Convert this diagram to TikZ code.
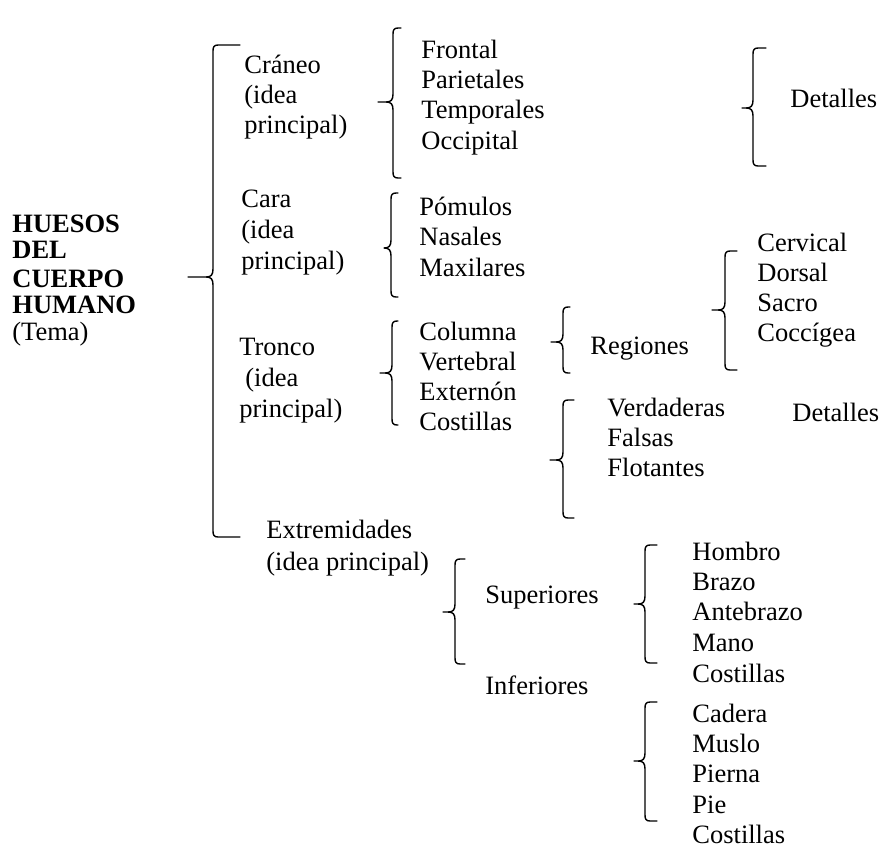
\documentclass[tikz,border=0pt]{standalone}
\usepackage{fontspec}
\setmainfont{Liberation Serif}
\usepackage{tikz}
% llave{x}{arriba}{punta y}{abajo}{punta x}{gancho}
\newcommand{\llave}[6]{%
  \draw[llave] ({#1+#6},#2) -- ({#1+5},#2) .. controls ({#1+1},#2) and (#1,{#2+2}) .. (#1,{#2+6})
    -- (#1,{#3-8}) .. controls (#1,{#3-2}) and ({#1-2},#3) .. ({#1-7},#3) -- (#5,#3)
    -- ({#1-7},#3) .. controls ({#1-2},#3) and (#1,{#3+2}) .. (#1,{#3+8})
    -- (#1,{#4-6}) .. controls (#1,{#4-2}) and ({#1+1},#4) .. ({#1+5},#4) -- ({#1+#6},#4);}

\begin{document}
\begin{tikzpicture}[x=0.5pt, y=-0.5pt,
    font=\fontsize{13.25pt}{15pt}\selectfont,
    txt/.style={anchor=base west, inner sep=0pt},
    tema/.style={txt, font=\fontsize{13.25pt}{15pt}\selectfont\bfseries},
    llave/.style={line width=0.7pt, line join=round, line cap=round}]
    \useasboundingbox (0,0) rectangle (882,847);
    % tema
    \node[tema] (huesos) at (12,232) {HUESOS};
    \node[tema] (del) at (12,258) {DEL};
    \node[tema] (cuerpo) at (12,287) {CUERPO};
    \node[tema] (humano) at (12,313) {HUMANO};
    \node[txt] (tema) at (12,340) {(Tema)};
    \llave{213}{45}{277}{537}{188}{27}
    %\\
    \node[txt] (craneo) at (244,73) {Cráneo};
    \node[txt] (craneoidea) at (244,103) {(idea};
    \node[txt] (craneoprin) at (244,133) {principal)};
    \llave{393}{28}{102}{178}{378}{8}
    \node[txt] (frontal) at (421,58) {Frontal};
    \node[txt] (parietales) at (421,88) {Parietales};
    \node[txt] (temporales) at (421,118) {Temporales};
    \node[txt] (occipital) at (421,149) {Occipital};
    \llave{753}{48}{108}{166}{742}{13}
    \node[txt] (detalles) at (790,107) {Detalles};
    %\\
    \node[txt] (cara) at (241,207) {Cara};
    \node[txt] (caraidea) at (241,238) {(idea};
    \node[txt] (caraprin) at (241,269) {principal)};
    \llave{391}{193}{248}{297}{385}{7}
    \node[txt] (pomulos) at (419,215) {Pómulos};
    \node[txt] (nasales) at (419,245) {Nasales};
    \node[txt] (maxilares) at (419,276) {Maxilares};
    %\\
    \node[txt] (tronco) at (239,355) {Tronco};
    \node[txt] (troncoidea) at (245,386) {(idea};
    \node[txt] (troncoprin) at (239,417) {principal)};
    \llave{392}{321}{373}{425}{380}{6}
    \node[txt] (columna) at (419,340) {Columna};
    \node[txt] (vertebral) at (419,370) {Vertebral};
    \node[txt] (externon) at (419,400) {Externón};
    \node[txt] (costillas) at (419,430) {Costillas};
    \llave{563}{307}{342}{373}{551}{7}
    \node[txt] (regiones) at (590,354) {Regiones};
    \llave{725}{251}{310}{370}{712}{12}
    \node[txt] (cervical) at (757,251) {Cervical};
    \node[txt] (dorsal) at (757,281) {Dorsal};
    \node[txt] (sacro) at (757,311) {Sacro};
    \node[txt] (coccigea) at (757,341) {Coccígea};
    \llave{563}{400}{460}{518}{550}{11}
    \node[txt] (verdaderas) at (607,416) {Verdaderas};
    \node[txt] (falsas) at (607,446) {Falsas};
    \node[txt] (flotantes) at (607,476) {Flotantes};
    \node[txt] (detallesb) at (792,421) {Detalles};
    %\\
    \node[txt] (extremidades) at (266,538) {Extremidades};
    \node[txt] (extremidadesidea) at (266,570) {(idea principal)};
    \llave{455}{559}{612}{664}{443}{10}
    \node[txt] (superiores) at (485,603) {Superiores};
    \node[txt] (inferiores) at (485,694) {Inferiores};
    \llave{645}{545}{604}{663}{634}{12}
    \node[txt] (hombro) at (692,560) {Hombro};
    \node[txt] (brazo) at (692,590) {Brazo};
    \node[txt] (antebrazo) at (692,620) {Antebrazo};
    \node[txt] (mano) at (692,651) {Mano};
    \node[txt] (costillasa) at (692,682) {Costillas};
    \llave{645}{702}{761}{821}{634}{12}
    \node[txt] (cadera) at (692,722) {Cadera};
    \node[txt] (muslo) at (692,752) {Muslo};
    \node[txt] (pierna) at (692,782) {Pierna};
    \node[txt] (pie) at (692,813) {Pie};
    \node[txt] (costillasb) at (692,843) {Costillas};
\end{tikzpicture}
\end{document}
